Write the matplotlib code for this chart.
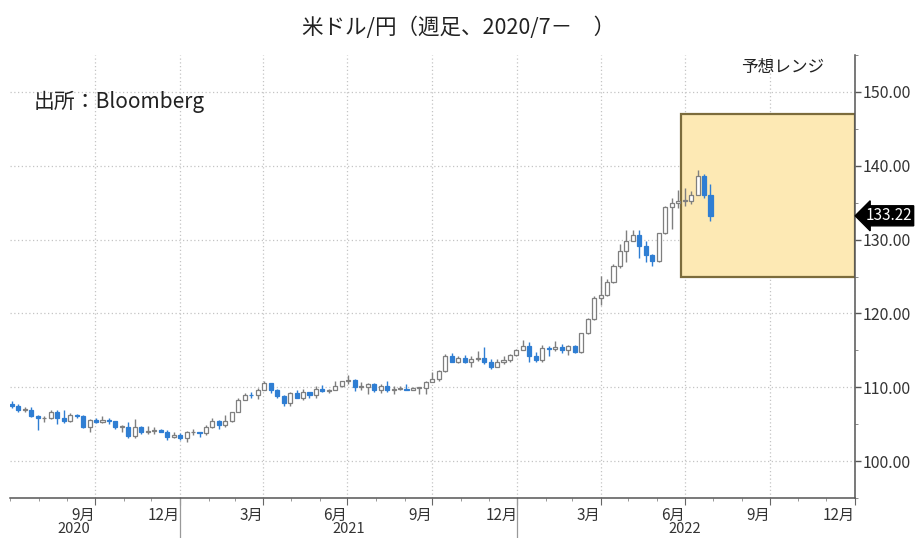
import numpy as np
import pandas as pd
import matplotlib
matplotlib.use("Agg")
import matplotlib.pyplot as plt
import matplotlib.dates as mdates
from matplotlib.patches import Rectangle

plt.rcParams['font.family'] = ['Noto Sans CJK JP', 'DejaVu Sans']

# 週足 (金曜日付) 2020/7/3 - 2022/7/29
dates = pd.date_range("2020-07-03", periods=109, freq="7D")

opens = [107.8, 107.5, 106.9, 107.0, 106.1, 105.8, 105.9, 106.6, 105.8, 105.4,
         106.2, 106.1, 104.6, 105.6, 105.3, 105.6, 105.4, 104.7, 104.7, 103.4,
         104.6, 103.9, 104.1, 104.2, 104.0, 103.3, 103.6, 103.2, 103.9, 103.9,
         103.8, 104.7, 105.4, 104.9, 105.4, 106.6, 108.3, 109.0, 108.9, 109.6,
         110.6, 109.7, 108.8, 107.9, 109.3, 108.6, 109.4, 108.9, 109.8, 109.5,
         109.7, 110.2, 110.8, 111.0, 110.1, 110.1, 110.5, 109.7, 110.2, 109.6,
         109.8, 109.8, 109.7, 109.9, 109.9, 110.7, 111.1, 112.2, 114.2, 113.5,
         114.0, 113.4, 113.9, 114.0, 113.4, 112.8, 113.4, 113.7, 114.4, 115.1,
         115.6, 114.2, 113.7, 115.3, 115.2, 115.4, 115.0, 115.6, 114.8, 117.3,
         119.2, 122.1, 122.5, 124.3, 126.4, 128.5, 129.8, 130.6, 129.2, 127.9,
         127.1, 130.9, 134.4, 135.0, 135.2, 135.2, 136.1, 138.6, 136.1]
highs = [108.1, 107.8, 107.4, 107.4, 106.2, 106.1, 107.0, 106.9, 107.0, 106.5,
         106.4, 106.2, 105.7, 105.8, 106.1, 105.8, 105.5, 104.9, 105.3, 105.7,
         104.8, 104.8, 104.7, 104.4, 104.2, 103.9, 103.8, 104.1, 104.4, 104.0,
         104.9, 105.8, 105.6, 106.2, 106.7, 108.6, 109.2, 109.4, 109.9, 110.9,
         110.6, 109.8, 108.9, 109.4, 109.7, 109.8, 109.4, 110.2, 110.3, 109.8,
         110.8, 110.9, 111.7, 111.1, 110.7, 110.6, 110.6, 110.4, 110.8, 110.2,
         110.2, 110.4, 110.1, 110.0, 110.8, 112.1, 112.3, 114.5, 114.7, 114.3,
         114.4, 114.3, 114.9, 115.5, 113.9, 113.9, 114.3, 114.5, 115.2, 116.4,
         116.1, 114.8, 115.7, 115.6, 116.3, 115.9, 115.8, 115.8, 117.4, 119.4,
         122.4, 125.1, 124.7, 126.7, 129.4, 131.3, 131.3, 131.3, 129.8, 128.0,
         130.9, 134.6, 135.6, 136.7, 137.0, 136.6, 139.4, 138.9, 137.5]
lows = [107.2, 106.6, 106.6, 106.0, 104.2, 105.3, 105.7, 105.1, 105.2, 105.3,
        105.9, 104.5, 104.0, 105.2, 105.2, 105.0, 104.3, 104.0, 103.2, 103.2,
        103.7, 103.7, 103.7, 103.9, 102.9, 103.2, 102.9, 102.6, 103.5, 103.3,
        103.5, 104.5, 104.4, 104.6, 105.3, 106.6, 108.3, 108.6, 108.4, 109.6,
        109.2, 108.6, 107.5, 107.5, 108.5, 108.3, 108.6, 108.6, 109.4, 109.2,
        109.6, 110.0, 110.5, 109.5, 109.7, 109.1, 109.4, 109.2, 109.4, 109.1,
        109.6, 109.6, 109.6, 109.1, 109.1, 110.7, 110.8, 112.1, 113.4, 113.3,
        113.3, 112.7, 113.6, 113.1, 112.5, 112.8, 113.1, 113.5, 114.3, 115.0,
        113.5, 113.5, 113.5, 114.2, 114.9, 114.7, 114.4, 114.7, 114.7, 117.2,
        119.1, 121.2, 122.4, 124.1, 126.2, 127.0, 129.8, 127.5, 127.0, 126.4,
        126.9, 130.8, 131.5, 134.3, 134.6, 134.8, 136.0, 135.6, 132.5]
closes = [107.5, 106.9, 107.0, 106.1, 105.8, 105.9, 106.6, 105.8, 105.4, 106.2,
          106.1, 104.6, 105.6, 105.3, 105.6, 105.4, 104.7, 104.7, 103.4, 104.6,
          103.9, 104.1, 104.2, 104.0, 103.3, 103.6, 103.2, 103.9, 103.9, 103.8,
          104.7, 105.4, 104.9, 105.4, 106.6, 108.3, 109.0, 108.9, 109.6, 110.6,
          109.7, 108.8, 107.9, 109.3, 108.6, 109.4, 108.9, 109.8, 109.5, 109.7,
          110.2, 110.8, 111.0, 110.1, 110.1, 110.5, 109.7, 110.2, 109.6, 109.8,
          109.8, 109.7, 109.9, 109.9, 110.7, 111.1, 112.2, 114.2, 113.5, 114.0,
          113.4, 113.9, 114.0, 113.4, 112.8, 113.4, 113.7, 114.4, 115.1, 115.6,
          114.2, 113.7, 115.3, 115.2, 115.4, 115.0, 115.6, 114.8, 117.3, 119.2,
          122.1, 122.5, 124.3, 126.4, 128.5, 129.8, 130.6, 129.2, 127.9, 127.1,
          130.9, 134.4, 135.0, 135.2, 135.2, 136.1, 138.6, 136.1, 133.22]

# 予想レンジ
range_start = "2022-06-27"
range_end = "2023-01-01"
range_low = 125
range_high = 147

month_labels = ["9月", "12月", "3月", "6月", "9月", "12月", "3月", "6月", "9月", "12月"]
years = ["2020", "2021", "2022"]

up_col = "#7f7f7f"
down_col = "#2f7ed3"

fig = plt.figure(figsize=(9.17, 5.38), dpi=100)
ax = fig.add_axes([0.011, 0.074, 0.921, 0.824])

o = np.array(opens)
c = np.array(closes)
h = np.array(highs)
l = np.array(lows)
x = mdates.date2num(dates)
up = c >= o
body_lo = np.minimum(o, c)
body_hi = np.maximum(o, c)

# レンジの箱
x0 = mdates.date2num(pd.Timestamp(range_start))
x1 = mdates.date2num(pd.Timestamp(range_end))
ax.add_patch(Rectangle((x0, range_low), x1 - x0, range_high - range_low,
                       facecolor="#fde9b4", edgecolor="#7c6c3c", lw=1.6, zorder=1))

# ひげ
for msk, col in [(up, up_col), (~up, down_col)]:
    ax.vlines(x[msk], body_hi[msk], h[msk], color=col, lw=1, zorder=3)
    ax.vlines(x[msk], l[msk], body_lo[msk], color=col, lw=1, zorder=3)

# 実体
hgt = np.maximum(body_hi - body_lo, 0.12)
ax.bar(x[up], hgt[up], bottom=body_lo[up], width=4.4, facecolor="white",
       edgecolor=up_col, lw=0.9, zorder=4)
ax.bar(x[~up], hgt[~up], bottom=body_lo[~up], width=4.4, facecolor=down_col,
       edgecolor=down_col, lw=0.9, zorder=4)

ax.set_xlim(mdates.date2num(pd.Timestamp("2020-07-01")), x1)
ax.set_ylim(95.4, 155)

# 軸
ax.yaxis.tick_right()
ax.set_yticks(np.arange(100, 151, 10))
ax.set_yticks(np.arange(95, 156, 5), minor=True)
ax.yaxis.set_major_formatter(plt.FormatStrFormatter("%.2f"))
ax.tick_params(axis="y", which="major", length=4, width=1, color="#555555",
               labelsize=11.5, labelcolor="#333333", pad=2)
ax.tick_params(axis="y", which="minor", length=2, color="#777777")

qticks = pd.date_range("2020-10-01", "2023-01-01", freq="3MS")
ax.set_xticks(mdates.date2num(qticks))
ax.set_xticklabels(month_labels, ha="right")
ax.xaxis.set_minor_locator(mdates.MonthLocator())
ax.tick_params(axis="x", which="major", length=5, color="#666666",
               labelsize=11, labelcolor="#333333", pad=1)
ax.tick_params(axis="x", which="minor", length=2, color="#888888")

for s in ["top", "left"]:
    ax.spines[s].set_visible(False)
for s in ["bottom", "right"]:
    ax.spines[s].set_color("#555555")
    ax.spines[s].set_linewidth(1.1)

ax.grid(True, which="major", color="#c4c4c4", lw=0.9, linestyle=(0, (1, 2)))
ax.set_axisbelow(True)

# 年の区切りとラベル
for yb in ["2021-01-01", "2022-01-01"]:
    ax.axvline(mdates.date2num(pd.Timestamp(yb)), ymin=-0.1, ymax=0,
               color="#999999", lw=0.9, clip_on=False)
year_pos = ["2020-09-08", "2021-07-02", "2022-07-01"]
for yr, pos in zip(years, year_pos):
    ax.text(mdates.date2num(pd.Timestamp(pos)), -0.069, yr,
            transform=ax.get_xaxis_transform(), ha="center", va="center",
            fontsize=10.5, color="#333333")

# 最新値タグ
ax.text(1.013, closes[-1], f"{closes[-1]:.2f}", transform=ax.get_yaxis_transform(),
        ha="left", va="center", fontsize=11, color="white",
        bbox=dict(boxstyle="larrow,pad=0.1", fc="black", ec="black"), clip_on=False)

ax.text(0.028, 0.893, "出所：Bloomberg", transform=ax.transAxes,
        fontsize=15, color="#222222", va="center")
ax.text(0.915, 0.972, "予想レンジ", transform=ax.transAxes,
        fontsize=12, color="#222222", ha="center", va="center")

fig.text(0.5, 0.948, "米ドル/円（週足、2020/7－　）", ha="center", va="center",
         fontsize=15.5, color="#222222")

fig.savefig("out.png", dpi=100)
